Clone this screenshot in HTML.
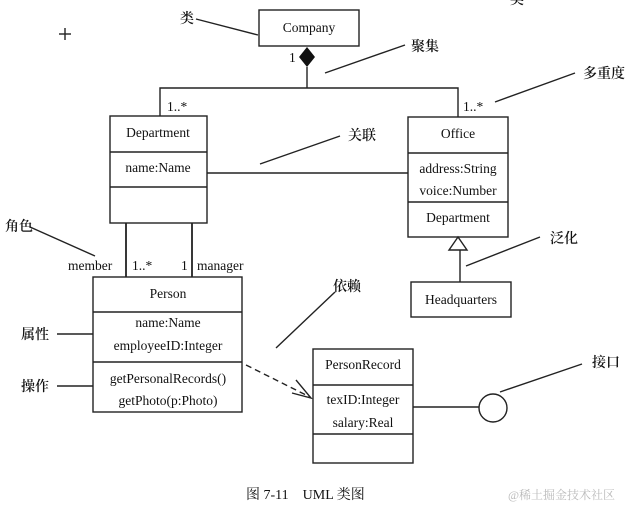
<!DOCTYPE html>
<html><head><meta charset="utf-8"><style>
html,body{margin:0;padding:0;background:#fff;}
svg{display:block;}
text{font-family:"Liberation Serif","Noto Serif CJK SC",serif;fill:#111;}
</style></head><body>
<svg width="636" height="512" viewBox="0 0 636 512" xmlns="http://www.w3.org/2000/svg">
<g fill="none" stroke="#222" stroke-width="1.4">
<rect x="259" y="10" width="100" height="36"/>
<rect x="110" y="116" width="97" height="107"/>
<line x1="110" y1="152" x2="207" y2="152"/>
<line x1="110" y1="187" x2="207" y2="187"/>
<rect x="408" y="117" width="100" height="120"/>
<line x1="408" y1="153" x2="508" y2="153"/>
<line x1="408" y1="202" x2="508" y2="202"/>
<rect x="411" y="282" width="100" height="35"/>
<rect x="93" y="277" width="149" height="135"/>
<line x1="93" y1="312" x2="242" y2="312"/>
<line x1="93" y1="362" x2="242" y2="362"/>
<rect x="313" y="349" width="100" height="114"/>
<line x1="313" y1="385" x2="413" y2="385"/>
<line x1="313" y1="434" x2="413" y2="434"/>
<line x1="307" y1="67" x2="307" y2="88"/>
<polyline points="160,116 160,88 458,88 458,117"/>
<line x1="207" y1="173" x2="408" y2="173"/>
<line x1="126" y1="223" x2="126" y2="277" stroke-width="1.8"/>
<line x1="192" y1="223" x2="192" y2="277" stroke-width="1.8"/>
<polygon points="458,237 449,250 467,250"/>
<line x1="460" y1="250" x2="460" y2="282"/>
<line x1="246" y1="365" x2="310" y2="397" stroke-dasharray="6,4"/>
<polyline points="296,380 311,398 292,393"/>
<line x1="413" y1="407" x2="479" y2="407"/>
<ellipse cx="493" cy="408" rx="14" ry="14"/>
<line x1="196" y1="19" x2="258" y2="35"/>
<line x1="325" y1="73" x2="405" y2="45"/>
<line x1="495" y1="102" x2="575" y2="73"/>
<line x1="260" y1="164" x2="340" y2="136"/>
<line x1="30" y1="227" x2="95" y2="256"/>
<line x1="466" y1="266" x2="540" y2="237"/>
<line x1="276" y1="348" x2="335" y2="292"/>
<line x1="57" y1="334" x2="93" y2="334"/>
<line x1="57" y1="386" x2="93" y2="386"/>
<line x1="500" y1="392" x2="582" y2="364"/>
<line x1="59" y1="34" x2="71" y2="34"/>
<line x1="65" y1="28" x2="65" y2="40"/>
</g>
<polygon points="307,47 299,57 307,67 315,57" fill="#111"/>
<g font-size="13.5">
<text x="309" y="32" text-anchor="middle">Company</text>
<text x="158" y="137" text-anchor="middle">Department</text>
<text x="158" y="172" text-anchor="middle">name:Name</text>
<text x="458" y="138" text-anchor="middle">Office</text>
<text x="458" y="173" text-anchor="middle">address:String</text>
<text x="458" y="195" text-anchor="middle">voice:Number</text>
<text x="458" y="222" text-anchor="middle">Department</text>
<text x="461" y="304" text-anchor="middle">Headquarters</text>
<text x="168" y="298" text-anchor="middle">Person</text>
<text x="168" y="327" text-anchor="middle">name:Name</text>
<text x="168" y="350" text-anchor="middle">employeeID:Integer</text>
<text x="168" y="383" text-anchor="middle">getPersonalRecords()</text>
<text x="168" y="405" text-anchor="middle">getPhoto(p:Photo)</text>
<text x="363" y="369" text-anchor="middle">PersonRecord</text>
<text x="363" y="404" text-anchor="middle">texID:Integer</text>
<text x="363" y="427" text-anchor="middle">salary:Real</text>
<text x="289" y="62">1</text>
<text x="167" y="111">1..*</text>
<text x="463" y="111">1..*</text>
<text x="68" y="270">member</text>
<text x="132" y="270">1..*</text>
<text x="181" y="270">1</text>
<text x="197" y="270">manager</text>
</g>
<g font-size="14" font-weight="600">
<text x="180" y="23">类</text>
<text x="411" y="51">聚集</text>
<text x="583" y="78">多重度</text>
<text x="348" y="140">关联</text>
<text x="5" y="231">角色</text>
<text x="550" y="243">泛化</text>
<text x="333" y="291">依赖</text>
<text x="21" y="339">属性</text>
<text x="21" y="391">操作</text>
<text x="592" y="367">接口</text>
<text x="510" y="4">类</text>
</g>
<text x="246" y="499" font-size="14">图 7-11　UML 类图</text>
<text x="508" y="499" font-size="12" style="fill:#bbb">@稀土掘金技术社区</text>
</svg>
</body></html>
